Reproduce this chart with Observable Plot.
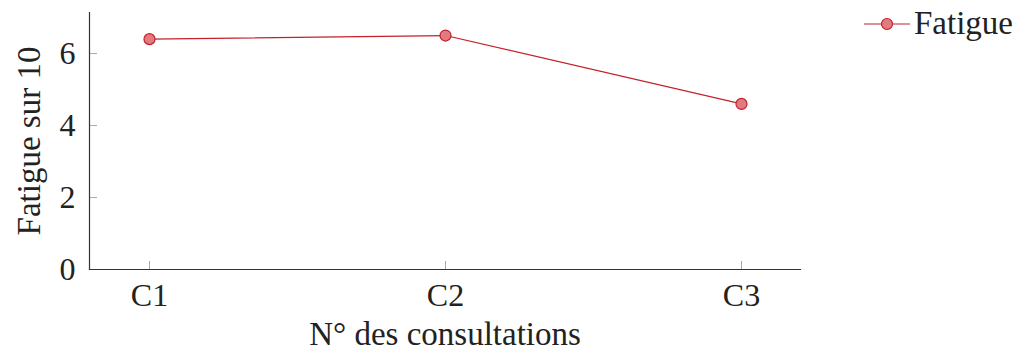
<!DOCTYPE html>
<html>
<head>
<meta charset="utf-8">
<script src="https://cdn.jsdelivr.net/npm/d3@7"></script>
<script src="https://cdn.jsdelivr.net/npm/@observablehq/plot@0.6"></script>
<style>
  html, body { margin: 0; padding: 0; background: #fff; }
  #wrap { position: relative; width: 1023px; height: 352px; font-family: "Liberation Serif", "DejaVu Serif", "Times New Roman", serif; }
  #legend { position: absolute; left: 864px; top: 5px; display: flex; align-items: center; font-size: 33px; color: #222; }
</style>
</head>
<body>
<div id="wrap">
  <div id="chart"></div>
  <div id="legend">
    <svg width="48" height="34"><line x1="0" y1="17" x2="46" y2="17" stroke="#c4202b" stroke-width="1.2"/><circle cx="23" cy="17" r="5.5" fill="#e07b7f" stroke="#c4202b" stroke-width="1.2"/></svg>
    <span id="legtext" style="margin-left:2px">Fatigue</span>
  </div>
</div>
<script>
const consultations = ["C1", "C2", "C3"];
const fatigue = [6.4, 6.5, 4.6];
const yTicks = [0, 2, 4, 6];
const seriesName = "Fatigue";

const data = consultations.map((c, i) => ({ c, v: fatigue[i] }));
document.getElementById("legtext").textContent = seriesName;

const FONT = "'Liberation Serif', 'DejaVu Serif', 'Times New Roman', serif";

const chart = Plot.plot({
  width: 1023,
  height: 352,
  marginLeft: 89,
  marginRight: 223,
  marginTop: 12,
  marginBottom: 83,
  style: { fontFamily: FONT, fontSize: "32px", color: "#222", background: "#fff" },
  x: { type: "point", domain: consultations, padding: 0.2 },
  y: { domain: [0, 7.14] },
  marks: [
    Plot.axisX({ tickSize: -8, tickPadding: 22, stroke: "#aaa", fill: "#222", fontSize: 32, label: null }),
    Plot.axisY({ ticks: yTicks, tickSize: -8, tickPadding: 22, stroke: "#aaa", fill: "#222", fontSize: 32, label: null }),
    Plot.frame({ anchor: "left", stroke: "#333", strokeWidth: 1.2 }),
    Plot.frame({ anchor: "bottom", stroke: "#333", strokeWidth: 1.2 }),
    Plot.text(["N° des consultations"], { frameAnchor: "bottom", dy: 75, fontSize: 33, fill: "#222", lineAnchor: "bottom", textAnchor: "middle" }),
    Plot.text(["Fatigue sur 10"], { frameAnchor: "left", dx: -60, rotate: -90, fontSize: 33, fill: "#222", lineAnchor: "middle", textAnchor: "middle" }),
    Plot.line(data, { x: "c", y: "v", stroke: "#c4202b", strokeWidth: 1.2 }),
    Plot.dot(data, { x: "c", y: "v", r: 5.5, fill: "#e07b7f", stroke: "#c4202b", strokeWidth: 1.2 })
  ]
});
document.getElementById("chart").appendChild(chart);
</script>
</body>
</html>
